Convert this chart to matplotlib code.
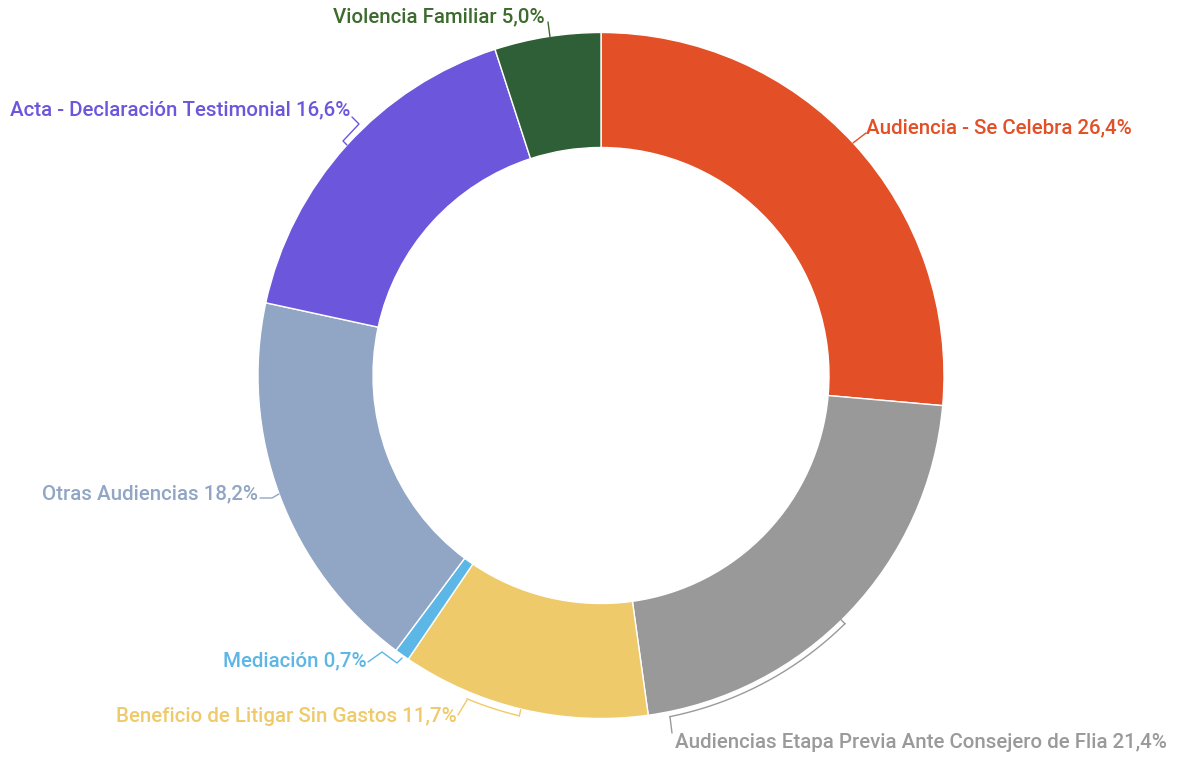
import numpy as np
import matplotlib.pyplot as plt

categories = ["Audiencia - Se Celebra",
              "Audiencias Etapa Previa Ante Consejero de Flia",
              "Beneficio de Litigar Sin Gastos",
              "Mediación",
              "Otras Audiencias",
              "Acta - Declaración Testimonial",
              "Violencia Familiar"]
values = [26.4, 21.4, 11.7, 0.7, 18.2, 16.6, 5.0]
colors = ["#E34F26", "#999999", "#EFCA6A", "#5CB6E6", "#91A6C4", "#6C56DC", "#2F5F36"]
text_colors = ["#E34F26", "#9A9A9A", "#EFCA6A", "#5CB6E6", "#91A6C4", "#6C56DC", "#3D6B2E"]

W, H = 1183, 759
fig = plt.figure(figsize=(W / 100, H / 100), dpi=100)
ax = fig.add_axes([0, 0, 1, 1])

cx, cy = 601, H - 375.5
R = 343

ax.pie(values, colors=colors, startangle=90, counterclock=False,
       center=(cx, cy), radius=R,
       wedgeprops=dict(width=R - 228, edgecolor="white", linewidth=1))

ax.set_xlim(0, W)
ax.set_ylim(0, H)
ax.set_aspect("equal")
ax.axis("off")


def fy(y):
    return H - y


# label positions in pixels (left x, center y)
label_pos = [(866, 128), (675, 742), (116, 717), (223, 661), (42, 494), (10, 110), (333, 17)]
for name, v, tc, (x, y) in zip(categories, values, text_colors, label_pos):
    txt = f"{name} {v:.1f}%".replace(".", ",")
    ax.text(x, fy(y), txt, color=tc, fontsize=14.8, family="Roboto",
            fontweight="medium", ha="left", va="center")

# leader lines (pixels)
lw = 1
leaders = [
    ([548, 550], [22, 37], text_colors[6]),
    ([866, 853], [133, 143], text_colors[0]),
    ([352, 359, 343, 347], [117, 124, 141, 145], text_colors[5]),
    ([260, 272, 279], [498, 498, 494], text_colors[4]),
    ([368, 382, 397, 402], [662, 652, 663, 658], text_colors[3]),
    ([458, 467], [715, 700], text_colors[2]),
    ([672, 670], [733, 717], text_colors[1]),
]
for xs, ys, c in leaders:
    ax.plot(xs, [fy(v) for v in ys], color=c, lw=lw, solid_capstyle="round")


def bracket(a0, a1, r_out, r_in, c):
    a = np.radians(np.linspace(a0, a1, 60))
    ax.plot(cx + r_out * np.cos(a), cy + r_out * np.sin(a), color=c, lw=lw)
    e = np.radians(a1)
    ax.plot([cx + r_out * np.cos(e), cx + r_in * np.cos(e)],
            [cy + r_out * np.sin(e), cy + r_in * np.sin(e)], color=c, lw=lw)


bracket(-78.6, -45.5, 348, 342, text_colors[1])
bracket(-112.5, -103.5, 350, 344, text_colors[2])

fig.savefig("out.png", dpi=100)
